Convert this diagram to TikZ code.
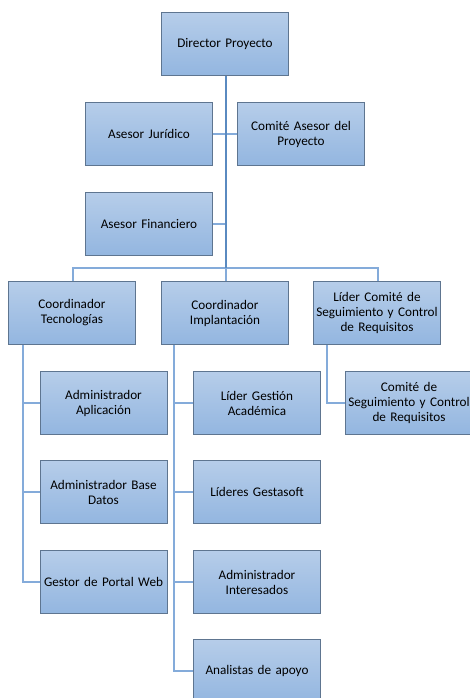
\documentclass[tikz,border=0pt]{standalone}
\usepackage{fontspec}
\setmainfont{Carlito}
\usetikzlibrary{backgrounds}
\begin{document}
\begin{tikzpicture}[x=1pt,y=-1pt,
  orgbox/.style={draw=boxedge,line width=0.9pt,top color=boxtop,bottom color=boxbot,
    minimum width=126pt,minimum height=63pt,inner sep=1pt,align=center,
    text width=125pt,font=\fontsize{13.2}{15}\selectfont,text=black},
  trunk/.style={draw=trunkblue,line width=2.6pt},
  link/.style={draw=linkblue,line width=1.6pt}]
\definecolor{boxtop}{HTML}{B6CDE9}
\definecolor{boxbot}{HTML}{93B6E0}
\definecolor{boxedge}{HTML}{5E7590}
\definecolor{trunkblue}{HTML}{5A8AC0}
\definecolor{linkblue}{HTML}{84ABDA}
\useasboundingbox (0,0) rectangle (470,698);
\clip (0,0) rectangle (470,698);

% boxes
\node[orgbox] (dir) at (225,44) {Director Proyecto};
\node[orgbox] (jurid) at (149,134) {Asesor Jurídico};
\node[orgbox] (comas) at (301,134) {Comité Asesor del\\Proyecto};
\node[orgbox] (finan) at (149,224) {Asesor Financiero};

\node[orgbox] (ctec) at (72,313) {Coordinador\\Tecnologías};
\node[orgbox] (cimp) at (225,313) {Coordinador\\Implantación};
\node[orgbox] (lcom) at (377,313) {Líder Comité de\\Seguimiento y Control\\de Requisitos};

\node[orgbox] (aapl) at (103.5,403) {Administrador\\Aplicación};
\node[orgbox] (abd) at (103.5,492) {Administrador Base\\Datos};
\node[orgbox] (gpw) at (103.5,582) {Gestor de Portal Web};

\node[orgbox] (lga) at (257,403) {Líder Gestión\\Académica};
\node[orgbox] (lgs) at (257,492) {Líderes Gestasoft};
\node[orgbox] (ain) at (257,582) {Administrador\\Interesados};
\node[orgbox] (ana) at (257,671) {Analistas de apoyo};

\node[orgbox] (csc) at (409,403) {Comité de\\Seguimiento y Control\\de Requisitos};

% connectors, behind the boxes
\coordinate (bus) at (226,268);
\coordinate (tv) at ([xshift=15pt]ctec.south west);
\coordinate (iv) at ([xshift=13pt]cimp.south west);
\coordinate (lv) at ([xshift=14pt]lcom.south west);
\begin{scope}[on background layer]
  \draw[link] (jurid.east) -- (comas.west);
  \draw[link] (finan.east) -- (finan.east -| bus);
  \draw[link] ([xshift=1pt]ctec.north) -- ([xshift=1pt]ctec.north |- bus)
              -- ([xshift=1pt]lcom.north |- bus) -- ([xshift=1pt]lcom.north);
  \draw[link] ([xshift=1pt]cimp.north) -- ([xshift=1pt]cimp.north |- bus);
  \draw[link] (tv) |- (gpw.west);
  \draw[link] (tv |- aapl.west) -- (aapl.west);
  \draw[link] (tv |- abd.west) -- (abd.west);
  \draw[link] (iv) |- (ana.west);
  \draw[link] (iv |- lga.west) -- (lga.west);
  \draw[link] (iv |- lgs.west) -- (lgs.west);
  \draw[link] (iv |- ain.west) -- (ain.west);
  \draw[link] (lv) |- (csc.west);
  \draw[trunk] ([xshift=1pt]dir.south) -- ([xshift=1pt]dir.south |- bus);
\end{scope}
\end{tikzpicture}
\end{document}
